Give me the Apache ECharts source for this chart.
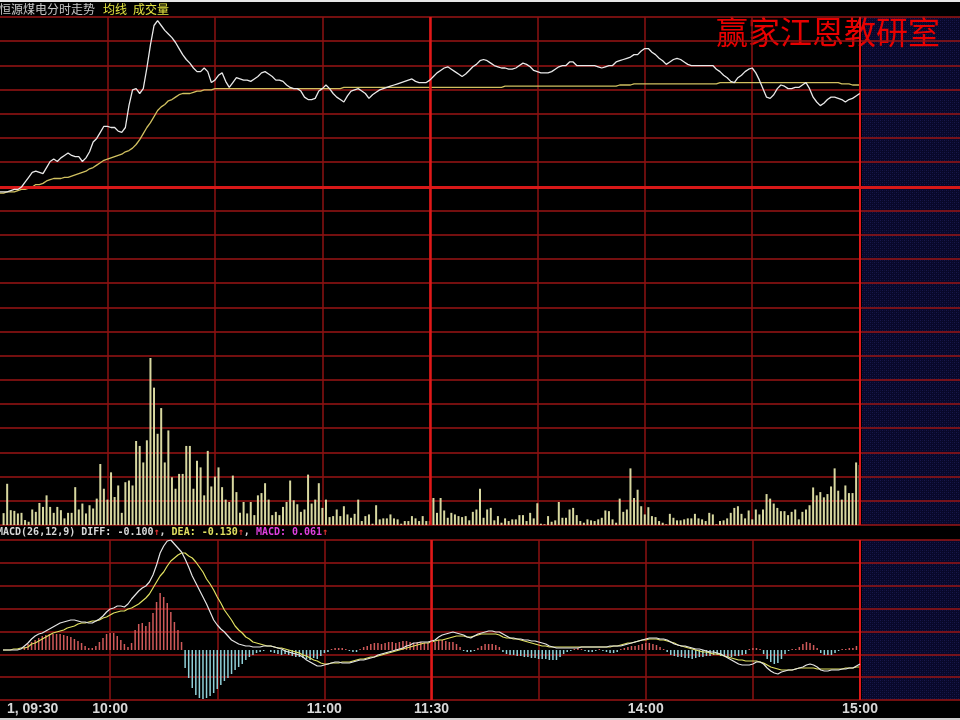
<!DOCTYPE html>
<html><head><meta charset="utf-8">
<script src="https://cdn.jsdelivr.net/npm/echarts@6/dist/echarts.min.js"></script>
<style>html,body{margin:0;padding:0;background:#000;}#c{width:960px;height:720px;}</style>
</head><body><div id="c"></div>
<script>
const prevClose = 20.00;
const price = [
19.96,19.96,19.96,19.97,19.98,19.98,20.00,20.04,20.08,20.12,
20.13,20.12,20.11,20.16,20.21,20.23,20.21,20.24,20.26,20.28,
20.26,20.25,20.25,20.21,20.24,20.29,20.37,20.40,20.45,20.50,
20.50,20.49,20.49,20.46,20.45,20.49,20.67,20.80,20.81,20.77,
20.81,20.98,21.17,21.33,21.37,21.33,21.29,21.26,21.23,21.19,
21.14,21.09,21.05,21.02,20.98,20.95,20.95,20.98,20.95,20.86,
20.88,20.92,20.94,20.87,20.82,20.86,20.90,20.89,20.88,20.88,
20.87,20.89,20.91,20.94,20.95,20.93,20.91,20.88,20.88,20.87,
20.84,20.82,20.81,20.81,20.79,20.74,20.72,20.72,20.73,20.79,
20.81,20.84,20.81,20.77,20.74,20.72,20.70,20.75,20.79,20.80,
20.81,20.79,20.77,20.73,20.76,20.78,20.80,20.81,20.82,20.83,
20.84,20.85,20.86,20.87,20.88,20.89,20.87,20.86,20.86,20.86,
20.88,20.91,20.94,20.96,20.98,20.99,20.97,20.95,20.93,20.91,
20.93,20.96,20.99,21.01,21.04,21.05,21.04,21.02,21.00,20.99,
20.98,20.98,20.97,20.97,20.98,21.00,21.02,21.01,20.99,20.96,
20.95,20.94,20.94,20.94,20.95,20.97,20.99,21.00,21.00,21.03,
21.03,21.00,21.00,21.00,21.00,21.00,21.00,20.99,20.98,20.99,
21.00,21.00,21.03,21.04,21.05,21.06,21.07,21.09,21.09,21.12,
21.14,21.14,21.11,21.09,21.06,21.04,21.01,21.03,21.05,21.06,
21.05,21.03,21.01,21.00,21.00,21.00,21.00,21.00,21.00,21.00,
20.97,20.95,20.92,20.90,20.87,20.86,20.90,20.92,20.95,20.97,
20.98,20.94,20.88,20.81,20.74,20.73,20.76,20.81,20.84,20.83,
20.81,20.81,20.82,20.82,20.84,20.86,20.81,20.74,20.70,20.67,
20.69,20.72,20.74,20.74,20.73,20.72,20.70,20.72,20.73,20.75,20.77];
const avgPrice = [
19.95,19.95,19.96,19.96,19.96,19.97,19.98,19.98,19.99,20.00,
20.02,20.02,20.03,20.05,20.06,20.07,20.07,20.07,20.08,20.08,
20.09,20.10,20.11,20.12,20.13,20.15,20.16,20.18,20.20,20.22,
20.23,20.24,20.25,20.26,20.27,20.29,20.30,20.32,20.35,20.39,
20.44,20.49,20.53,20.58,20.63,20.66,20.68,20.71,20.72,20.74,
20.76,20.77,20.77,20.77,20.78,20.79,20.79,20.80,20.80,20.80,
20.81,20.81,20.81,20.81,20.81,20.81,20.81,20.81,20.81,20.81,
20.81,20.81,20.81,20.81,20.81,20.81,20.81,20.81,20.81,20.81,
20.81,20.81,20.81,20.81,20.81,20.81,20.81,20.81,20.81,20.81,
20.81,20.81,20.81,20.81,20.81,20.81,20.82,20.82,20.82,20.82,
20.82,20.82,20.82,20.82,20.82,20.82,20.82,20.82,20.82,20.82,
20.82,20.82,20.82,20.82,20.82,20.82,20.82,20.82,20.82,20.82,
20.82,20.82,20.82,20.82,20.82,20.82,20.82,20.82,20.82,20.82,
20.82,20.82,20.82,20.82,20.82,20.82,20.82,20.82,20.82,20.82,
20.82,20.83,20.83,20.83,20.83,20.83,20.83,20.83,20.83,20.83,
20.83,20.83,20.83,20.83,20.83,20.83,20.83,20.83,20.83,20.83,
20.83,20.83,20.83,20.83,20.83,20.83,20.83,20.83,20.83,20.83,
20.83,20.83,20.83,20.84,20.84,20.84,20.84,20.85,20.85,20.85,
20.85,20.85,20.85,20.85,20.85,20.85,20.85,20.85,20.85,20.85,
20.85,20.85,20.85,20.85,20.85,20.85,20.85,20.85,20.85,20.85,
20.85,20.86,20.86,20.86,20.86,20.86,20.86,20.86,20.86,20.86,
20.86,20.86,20.86,20.86,20.86,20.86,20.86,20.86,20.86,20.86,
20.86,20.86,20.86,20.86,20.86,20.86,20.86,20.86,20.86,20.86,
20.86,20.86,20.86,20.86,20.86,20.85,20.85,20.85,20.84,20.84,20.84];
const volume = [null,120,
417,150,143,117,123,50,33,157,133,223,
183,300,183,123,183,150,67,123,123,383,
157,217,117,200,167,267,617,367,257,533,
283,400,123,433,450,400,850,800,633,857,
1690,1390,923,1183,633,957,483,367,517,517,
800,800,367,650,583,300,750,390,490,583,
383,257,233,500,333,123,233,117,233,100,
300,323,423,257,100,133,100,183,233,450,
250,210,133,157,510,217,257,423,
173,257,80,90,157,90,190,107,73,113,
257,40,90,107,13,200,57,67,67,107,
67,57,13,40,40,90,67,40,90,40,
40,273,123,273,147,73,123,107,90,80,
90,47,133,157,367,73,157,173,47,90,
23,67,40,57,57,100,100,40,123,67,
220,13,7,90,33,47,233,73,73,157,
173,100,40,23,57,47,40,57,73,147,
140,57,23,267,133,157,573,273,357,
190,107,180,90,80,40,23,7,113,73,
47,47,57,67,67,113,67,57,40,123,
107,7,40,47,67,123,173,190,113,67,
147,57,157,107,157,313,267,217,173,140,
140,100,133,157,57,133,157,200,380,300,
333,280,313,390,573,347,257,400,323,323,
633,607];
const diff = [
0,0,0,0,0,0.01,0.04,0.07,0.11,0.14,
0.16,0.17,0.19,0.21,0.23,0.25,0.27,0.28,0.29,0.30,
0.30,0.29,0.28,0.28,0.27,0.27,0.29,0.31,0.34,0.38,
0.41,0.42,0.44,0.44,0.43,0.46,0.51,0.55,0.59,0.62,
0.64,0.68,0.75,0.85,0.97,1.04,1.09,1.10,1.06,1.02,
0.98,0.91,0.83,0.74,0.67,0.60,0.53,0.46,0.38,0.30,
0.25,0.21,0.18,0.14,0.10,0.08,0.06,0.05,0.04,0.04,
0.03,0.03,0.03,0.04,0.04,0.04,0.03,0.02,0.01,-0.01,
-0.02,-0.03,-0.04,-0.05,-0.07,-0.10,-0.12,-0.14,-0.16,-0.16,
-0.15,-0.14,-0.13,-0.12,-0.12,-0.13,-0.13,-0.13,-0.12,-0.11,
-0.10,-0.10,-0.09,-0.08,-0.07,-0.05,-0.04,-0.03,-0.02,-0.01,
0,0.01,0.02,0.04,0.05,0.07,0.07,0.08,0.08,0.08,
0.09,0.10,0.13,0.15,0.16,0.17,0.18,0.17,0.16,0.15,
0.13,0.12,0.14,0.16,0.17,0.18,0.19,0.19,0.18,0.18,
0.16,0.14,0.12,0.12,0.11,0.11,0.10,0.10,0.09,0.09,
0.08,0.07,0.06,0.04,0.03,0.02,0.02,0.02,0.02,0.02,
0.02,0.02,0.03,0.03,0.03,0.03,0.03,0.03,0.03,0.03,
0.04,0.04,0.04,0.04,0.05,0.06,0.07,0.08,0.09,0.10,
0.11,0.12,0.12,0.12,0.11,0.11,0.10,0.08,0.06,0.05,
0.04,0.04,0.03,0.02,0.01,0.01,0,-0.01,-0.02,-0.02,
-0.03,-0.04,-0.06,-0.08,-0.10,-0.12,-0.14,-0.15,-0.15,-0.15,
-0.14,-0.12,-0.12,-0.14,-0.18,-0.21,-0.23,-0.24,-0.22,-0.21,
-0.20,-0.20,-0.19,-0.18,-0.17,-0.15,-0.14,-0.15,-0.17,-0.20,
-0.21,-0.21,-0.20,-0.20,-0.20,-0.19,-0.19,-0.18,-0.18,-0.16,-0.14];
const dea = [
0,0,0,0.01,0.01,0.02,0.02,0.03,0.06,0.07,
0.09,0.11,0.13,0.15,0.17,0.18,0.19,0.20,0.22,0.23,
0.24,0.26,0.27,0.27,0.28,0.29,0.29,0.30,0.32,0.33,
0.35,0.37,0.38,0.39,0.39,0.41,0.42,0.44,0.46,0.49,
0.52,0.56,0.62,0.68,0.74,0.78,0.84,0.89,0.92,0.95,
0.97,0.97,0.94,0.92,0.88,0.83,0.78,0.71,0.66,0.60,
0.53,0.47,0.40,0.35,0.30,0.24,0.20,0.17,0.13,0.11,
0.08,0.07,0.06,0.05,0.04,0.04,0.03,0.02,0.02,0.01,
0,-0.01,-0.02,-0.03,-0.05,-0.06,-0.08,-0.10,-0.11,-0.13,
-0.14,-0.14,-0.13,-0.13,-0.13,-0.12,-0.12,-0.12,-0.11,-0.10,
-0.09,-0.09,-0.08,-0.07,-0.07,-0.06,-0.05,-0.04,-0.03,-0.02,
-0.01,0,0.01,0.02,0.03,0.04,0.05,0.06,0.07,0.07,
0.08,0.09,0.10,0.10,0.11,0.12,0.13,0.14,0.14,0.14,
0.13,0.13,0.14,0.15,0.16,0.16,0.16,0.16,0.16,0.15,
0.13,0.12,0.12,0.11,0.11,0.10,0.09,0.08,0.07,0.06,
0.05,0.04,0.04,0.03,0.03,0.03,0.03,0.03,0.03,0.03,
0.03,0.03,0.03,0.03,0.03,0.03,0.03,0.03,0.03,0.03,
0.03,0.04,0.04,0.05,0.06,0.07,0.07,0.08,0.09,0.10,
0.10,0.11,0.11,0.11,0.10,0.10,0.09,0.08,0.07,0.05,
0.04,0.03,0.02,0.01,0,-0.01,-0.02,-0.02,-0.03,-0.04,
-0.04,-0.05,-0.06,-0.07,-0.08,-0.09,-0.10,-0.10,-0.11,-0.11,
-0.11,-0.11,-0.12,-0.13,-0.15,-0.17,-0.18,-0.19,-0.20,-0.20,
-0.20,-0.20,-0.19,-0.18,-0.18,-0.18,-0.18,-0.18,-0.19,-0.19,
-0.19,-0.19,-0.19,-0.19,-0.19,-0.19,-0.18,-0.18,-0.18,-0.17,-0.17];
const macdBars = [
0,0,0,0,0,0,0.03,0.06,0.08,0.10,
0.12,0.14,0.15,0.16,0.16,0.16,0.16,0.15,0.14,0.13,
0.11,0.09,0.07,0.04,0.02,0.02,0.04,0.08,0.12,0.16,
0.17,0.17,0.14,0.10,0.06,0.03,0.07,0.20,0.26,0.27,
0.24,0.28,0.37,0.48,0.57,0.53,0.47,0.38,0.28,0.20,
0.08,-0.18,-0.28,-0.38,-0.45,-0.48,-0.49,-0.48,-0.46,-0.43,
-0.39,-0.35,-0.31,-0.28,-0.24,-0.20,-0.17,-0.14,-0.10,-0.07,
-0.05,-0.03,-0.02,-0.01,0,-0.02,-0.03,-0.04,-0.05,-0.04,
-0.05,-0.06,-0.07,-0.07,-0.08,-0.09,-0.10,-0.08,-0.09,-0.06,
-0.03,-0.02,0.01,0.02,0.02,0.02,0.01,-0.01,-0.02,-0.02,
0.01,0.03,0.04,0.06,0.07,0.07,0.06,0.07,0.08,0.08,
0.07,0.08,0.09,0.09,0.08,0.07,0.08,0.08,0.07,0.07,
0.06,0.08,0.10,0.10,0.09,0.08,0.08,0.06,0.03,-0.01,
-0.02,-0.02,-0.01,0.02,0.04,0.06,0.06,0.06,0.05,0.03,
-0.02,-0.04,-0.05,-0.05,-0.06,-0.06,-0.07,-0.07,-0.08,-0.08,
-0.09,-0.09,-0.09,-0.10,-0.10,-0.10,-0.07,-0.04,-0.02,-0.01,
0.01,0.02,0.01,-0.01,-0.02,-0.02,-0.01,0.01,-0.01,-0.02,
-0.03,-0.03,-0.02,0.01,0.02,0.03,0.04,0.04,0.05,0.06,
0.07,0.07,0.06,0.05,0.03,0.01,-0.02,-0.05,-0.06,-0.07,
-0.07,-0.08,-0.08,-0.09,-0.08,-0.07,-0.07,-0.06,-0.06,-0.05,
-0.05,-0.06,-0.06,-0.07,-0.07,-0.06,-0.06,-0.05,-0.04,0.01,
0.02,0.02,0.01,-0.04,-0.09,-0.12,-0.14,-0.13,-0.09,-0.04,
-0.01,0.01,0.01,0.03,0.06,0.08,0.07,0.05,0.02,-0.03,
-0.05,-0.05,-0.05,-0.03,-0.01,0.01,0.01,0.02,0.02,0.04,0.07];
const tickLabels = {'09:30':' 1, 09:30','10:00':'10:00','11:00':'11:00','11:30':'11:30','14:00':'14:00','15:00':'15:00'};
const titleText = '恒源煤电分时走势';
const legendAvg = '均线';
const legendVol = '成交量';
const watermark = '赢家江恩教研室';
const macdHeader = {name:'MACD(26,12,9)', diff:'-0.100', dea:'-0.130', macd:'0.061'};

// minute categories 09:30-11:30, 13:01-15:00, plus empty slots for the right margin
const times = [];
for (let m = 0; m <= 240; m++) {
  const t = m <= 120 ? 570 + m : 780 + (m - 120);
  const hh = Math.floor(t / 60), mm = t % 60;
  times.push((hh < 10 ? '0' : '') + hh + ':' + (mm < 10 ? '0' : '') + mm);
}
const cats = times.slice();
for (let k = 1; k <= 28; k++) cats.push('+' + k);

// dotted navy texture for the empty right margin
const tex = document.createElement('canvas');
tex.width = 4; tex.height = 4;
const tctx = tex.getContext('2d');
tctx.fillStyle = '#08082a'; tctx.fillRect(0, 0, 4, 4);
tctx.fillStyle = '#18184c'; tctx.fillRect(0, 0, 1, 1); tctx.fillRect(2, 2, 1, 1);
tctx.fillStyle = '#10103c'; tctx.fillRect(2, 0, 1, 1); tctx.fillRect(0, 2, 1, 1);

const GRID_RED = '#9a1414';
const BRIGHT_RED = '#e01818';
const vSplit = {show: true, interval: (i) => i > 0 && i % 30 === 0 && i <= 240, lineStyle: {color: '#8c1212', width: 1.5}};
const brightV = {symbol: 'none', silent: true, label: {show: false}, lineStyle: {color: BRIGHT_RED, width: 2.5, type: 'solid'},
  data: [{xAxis: '11:30'}, {xAxis: '15:00', lineStyle: {color: BRIGHT_RED, width: 2}}]};

const chart = echarts.init(document.getElementById('c'), null, {renderer: 'canvas'});
const hiddenY = {axisLine: {show: false}, axisTick: {show: false}, axisLabel: {show: false}, splitLine: {show: false}};
const catX = (gi, labels) => ({
  type: 'category', gridIndex: gi, data: cats, boundaryGap: false,
  axisLine: {show: false}, axisTick: {show: false},
  axisLabel: labels ? {
    show: true, interval: (i, v) => tickLabels[v] !== undefined && i <= 240,
    formatter: (v) => tickLabels[v] || '', color: '#d8d8d8', fontSize: 14, fontWeight: 'bold',
    fontFamily: 'Liberation Sans', margin: 2, alignMinLabel: 'left'
  } : {show: false},
  splitLine: vSplit
});

chart.setOption({
  backgroundColor: '#000',
  animation: false,
  graphic: [
    {type: 'rect', z: -2, shape: {x: 862, y: 17, width: 98, height: 508}, style: {fill: '#0b0b30'}},
    {type: 'rect', z: -2, shape: {x: 862, y: 540, width: 98, height: 160}, style: {fill: '#0b0b30'}},
    {type: 'rect', z: -1, shape: {x: 862, y: 17, width: 98, height: 508}, style: {fill: {image: tex, repeat: 'repeat'}}},
    {type: 'rect', z: -1, shape: {x: 862, y: 540, width: 98, height: 160}, style: {fill: {image: tex, repeat: 'repeat'}}},
    {type: 'rect', shape: {x: 0, y: 0, width: 960, height: 2}, style: {fill: '#e6e6e6'}},
    {type: 'rect', shape: {x: 0, y: 718, width: 960, height: 2}, style: {fill: '#d0d0d0'}},
    {type: 'text', x: -1, y: 9, style: {text: titleText, fill: '#c8c8c8', font: '12px "Noto Sans CJK SC"', verticalAlign: 'middle'}},
    {type: 'text', x: 103, y: 9, style: {text: legendAvg, fill: '#e6e640', font: '12px "Noto Sans CJK SC"', verticalAlign: 'middle'}},
    {type: 'text', x: 133, y: 9, style: {text: legendVol, fill: '#e6e640', font: '12px "Noto Sans CJK SC"', verticalAlign: 'middle'}},
    {type: 'text', x: 716, y: 32, style: {text: watermark, fill: '#e80000', font: '32px "Noto Sans CJK SC"', verticalAlign: 'middle'}},
    {type: 'text', x: -3, y: 532, style: {
      text: '{w|' + macdHeader.name + ' DIFF: ' + macdHeader.diff + '}{r|↑}{w|, }{y|DEA: ' + macdHeader.dea + '}{r|↑}{w|, }{m|MACD: ' + macdHeader.macd + '}{r|↑}',
      verticalAlign: 'middle', font: 'bold 10px "DejaVu Sans Mono"',
      rich: {
        w: {fill: '#d8d8d8', font: 'bold 10px "DejaVu Sans Mono"'},
        r: {fill: '#e03030', font: 'bold 10px "DejaVu Sans Mono"'},
        y: {fill: '#e0e060', font: 'bold 10px "DejaVu Sans Mono"'},
        m: {fill: '#e040e0', font: 'bold 10px "DejaVu Sans Mono"'}
      }
    }}
  ],
  grid: [
    {left: 0, right: 0, top: 17, height: 340},
    {left: 0, right: 0, top: 357, height: 168},
    {left: 0, right: 0, top: 540, height: 160},
    {left: 0, right: 0, top: 17, height: 508},
    {left: 0, right: 0, top: 540, height: 160}
  ],
  xAxis: [
    catX(0, false), catX(1, false), catX(2, true),
    {type: 'value', gridIndex: 3, min: 0, max: 1, show: false},
    {type: 'value', gridIndex: 4, min: 0, max: 1, show: false}
  ],
  yAxis: [
    Object.assign({type: 'value', gridIndex: 0, min: 18.6, max: 21.4}, hiddenY),
    Object.assign({type: 'value', gridIndex: 1, min: 0, max: 1700}, hiddenY),
    Object.assign({type: 'value', gridIndex: 2, min: -0.5, max: 1.1}, hiddenY),
    {type: 'value', gridIndex: 3, min: 0, max: 21, interval: 1, axisLine: {show: false}, axisTick: {show: false}, axisLabel: {show: false},
      splitLine: {show: true, lineStyle: {color: GRID_RED, width: 1.5}}},
    {type: 'value', gridIndex: 4, min: 0, max: 7, interval: 1, axisLine: {show: false}, axisTick: {show: false}, axisLabel: {show: false},
      splitLine: {show: true, lineStyle: {color: GRID_RED, width: 1.5}}}
  ],
  series: [
    {name: '价格', type: 'line', xAxisIndex: 0, yAxisIndex: 0, data: price, symbol: 'none', z: 5,
      lineStyle: {color: '#e8e8e8', width: 1.3},
      markLine: {symbol: 'none', silent: true, label: {show: false}, lineStyle: {color: '#d81818', width: 3, type: 'solid'},
        data: [{yAxis: prevClose}, {xAxis: '11:30', lineStyle: {color: BRIGHT_RED, width: 2.5}}, {xAxis: '15:00', lineStyle: {color: BRIGHT_RED, width: 2}}]}},
    {name: '均线', type: 'line', xAxisIndex: 0, yAxisIndex: 0, data: avgPrice, symbol: 'none', z: 4,
      lineStyle: {color: '#d0c060', width: 1.3}},
    {name: '成交量', type: 'bar', xAxisIndex: 1, yAxisIndex: 1, data: volume, barWidth: 2,
      itemStyle: {color: '#d8d8a0'}, markLine: brightV},
    {name: 'MACD', type: 'bar', xAxisIndex: 2, yAxisIndex: 2, data: macdBars, barWidth: 1.5,
      itemStyle: {color: (p) => p.value >= 0 ? '#d05a5a' : '#90d0d8'}, markLine: brightV},
    {name: 'DIFF', type: 'line', xAxisIndex: 2, yAxisIndex: 2, data: diff, symbol: 'none', z: 5,
      lineStyle: {color: '#e4e4e4', width: 1.2}},
    {name: 'DEA', type: 'line', xAxisIndex: 2, yAxisIndex: 2, data: dea, symbol: 'none', z: 4,
      lineStyle: {color: '#e0e060', width: 1.2}}
  ]
});
</script>
</body></html>
